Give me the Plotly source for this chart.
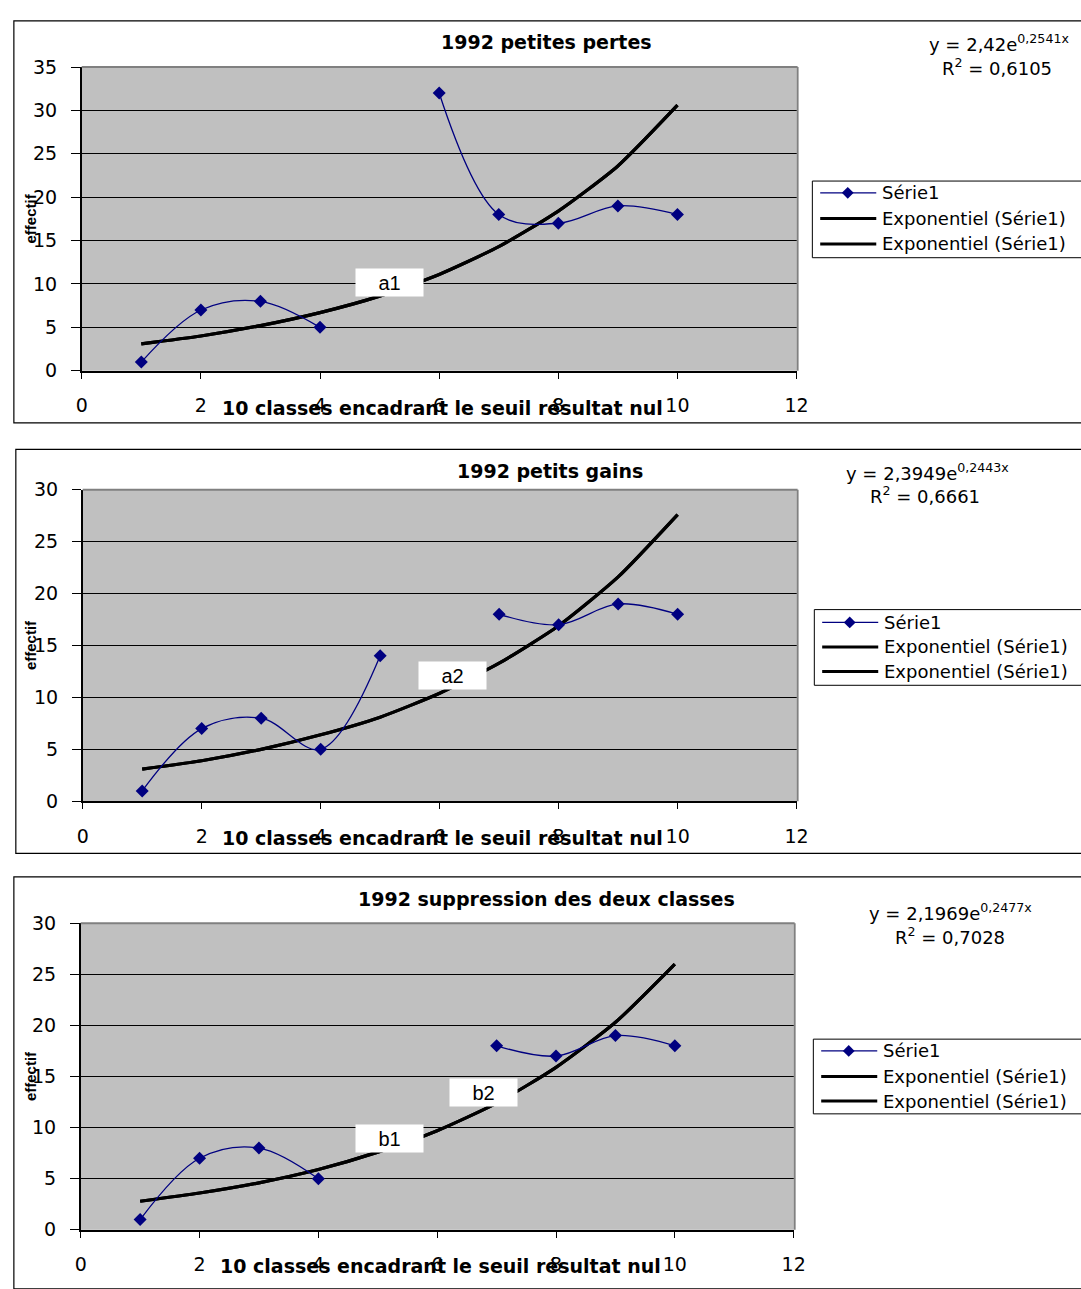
import plotly.graph_objects as go

W, H = 1081, 1289

# ---------------- data ----------------
x_classes = [1, 2, 3, 4, 5, 6, 7, 8, 9, 10]

serie_pertes = [1, 7, 8, 5, None, 32, 18, 17, 19, 18]
serie_gains = [1, 7, 8, 5, 14, None, 18, 17, 19, 18]
serie_suppr = [1, 7, 8, 5, None, None, 18, 17, 19, 18]

trend_pertes = [3.1, 4.0, 5.2, 6.7, 8.6, 11.1, 14.3, 18.4, 23.6, 30.6]
trend_gains = [3.1, 3.9, 5.0, 6.4, 8.1, 10.4, 13.3, 16.9, 21.6, 27.6]
trend_suppr = [2.8, 3.6, 4.6, 5.9, 7.6, 9.7, 12.4, 15.9, 20.3, 26.0]

titles = ["1992 petites pertes", "1992 petits gains", "1992 suppression des deux classes"]
equations = [("2,42", "0,2541x", "0,6105"), ("2,3949", "0,2443x", "0,6661"), ("2,1969", "0,2477x", "0,7028")]
y_max = [35, 30, 30]
x_title = "10 classes encadrant le seuil résultat nul"
y_title = "effectif"
legend_names = ["Série1", "Exponentiel (Série1)", "Exponentiel (Série1)"]
x_ticks = [0, 2, 4, 6, 8, 10, 12]

# --------------- layout geometry (pixels) ---------------
def X(px):
    return px / W

def Y(py):
    return 1 - py / H

plots = [  # x0, x1, ytop, ybottom
    (77, 804, 57, 366),
    (78, 804, 487, 804),
    (76, 801, 928, 1240),
]
frames = [(8, 10, 419), (10, 446, 857), (8, 881, 1300)]
title_pos = [(550, 32), (553, 468), (550, 903)]
eq_pos = [(1010, 33, 1008, 57), (937, 469, 935, 492), (961, 917, 960, 941)]
legend_pos = [(820, 173, 251, [185, 211, 237]),
              (822, 609, 686, [622, 647, 672]),
              (821, 1046, 1122, [1058, 1084, 1109])]
xtitle_y = [404, 841, 1277]
labels = [[("a1", 390, 276)], [("a2", 454, 676)], [("b2", 486, 1100), ("b1", 390, 1147)]]

series = [serie_pertes, serie_gains, serie_suppr]
trends = [trend_pertes, trend_gains, trend_suppr]

NAVY = "#000080"
GRAY_BG = "#C0C0C0"
FONT = "DejaVu Sans"

fig = go.Figure()
shapes = []
annotations = []
layout_axes = {}

for i in range(3):
    n = "" if i == 0 else str(i + 1)
    xa, ya = "x" + n, "y" + n
    x0, x1, yt, yb = plots[i]

    fig.add_trace(go.Scatter(
        x=x_classes, y=trends[i], mode="lines", xaxis=xa, yaxis=ya,
        line=dict(color="black", width=3.2, shape="spline", smoothing=0.6),
        name=legend_names[1], showlegend=False, hoverinfo="skip"))
    fig.add_trace(go.Scatter(
        x=x_classes, y=trends[i], mode="lines", xaxis=xa, yaxis=ya,
        line=dict(color="black", width=3.2, shape="spline", smoothing=0.6),
        name=legend_names[2], showlegend=False, hoverinfo="skip"))
    fig.add_trace(go.Scatter(
        x=x_classes, y=series[i], mode="lines+markers", xaxis=xa, yaxis=ya,
        line=dict(color=NAVY, width=1.3, shape="spline", smoothing=1),
        marker=dict(symbol="diamond", size=10, color=NAVY),
        connectgaps=False, name=legend_names[0], showlegend=False))

    layout_axes["xaxis" + n] = dict(
        domain=[X(x0), X(x1)], range=[0, 12], anchor=ya,
        tickvals=x_ticks, ticks="outside", ticklen=6, tickcolor="black",
        showline=True, linecolor="black", linewidth=1.5,
        showgrid=False, zeroline=False, ticklabelstandoff=11,
        tickfont=dict(family=FONT, size=19, color="black"), fixedrange=True)
    layout_axes["yaxis" + n] = dict(
        domain=[Y(yb), Y(yt)], range=[0, y_max[i]], anchor=xa,
        dtick=5, ticks="outside", ticklen=9, tickcolor="black",
        showline=True, linecolor="black", linewidth=1.5,
        showgrid=True, gridcolor="black", gridwidth=1, zeroline=False,
        ticklabelstandoff=10,
        tickfont=dict(family=FONT, size=19, color="black"), fixedrange=True)

    # plot area top/right gray border
    shapes.append(dict(type="line", xref="paper", yref="paper",
                       x0=X(x0), x1=X(x1 + 1), y0=Y(yt), y1=Y(yt),
                       line=dict(color="#808080", width=2)))
    shapes.append(dict(type="line", xref="paper", yref="paper",
                       x0=X(x1 + 1), x1=X(x1 + 1), y0=Y(yt), y1=Y(yb),
                       line=dict(color="#808080", width=2)))

    # outer frame
    fx, fy0, fy1 = frames[i]
    shapes.append(dict(type="rect", xref="paper", yref="paper",
                       x0=X(fx), x1=X(1100), y0=Y(fy1), y1=Y(fy0),
                       line=dict(color="black", width=1.2), layer="below"))

    # title
    tx, ty = title_pos[i]
    annotations.append(dict(text="<b>" + titles[i] + "</b>", x=X(tx), y=Y(ty),
                            xref="paper", yref="paper", showarrow=False,
                            xanchor="center", yanchor="middle",
                            font=dict(family=FONT, size=19, color="black")))
    # equation
    a, b, r2 = equations[i]
    ex, ey, rx, ry = eq_pos[i]
    annotations.append(dict(text="y = " + a + "e<sup>" + b + "</sup>", x=X(ex), y=Y(ey),
                            xref="paper", yref="paper", showarrow=False,
                            xanchor="center", yanchor="middle",
                            font=dict(family=FONT, size=18, color="black")))
    annotations.append(dict(text="R<sup>2</sup> = " + r2, x=X(rx), y=Y(ry),
                            xref="paper", yref="paper", showarrow=False,
                            xanchor="center", yanchor="middle",
                            font=dict(family=FONT, size=18, color="black")))
    # axis titles
    annotations.append(dict(text="<b>" + x_title + "</b>", x=X((x0 + x1) / 2 + 3), y=Y(xtitle_y[i]),
                            xref="paper", yref="paper", showarrow=False,
                            xanchor="center", yanchor="middle",
                            font=dict(family=FONT, size=19, color="black")))
    annotations.append(dict(text="<b>" + y_title + "</b>", x=X(25), y=Y((yt + yb) / 2),
                            xref="paper", yref="paper", showarrow=False, textangle=-90,
                            xanchor="center", yanchor="middle",
                            font=dict(family="Liberation Sans", size=15, color="black")))
    # labels in white boxes
    for (lab, lx, ly) in labels[i]:
        annotations.append(dict(text=lab, x=X(lx), y=Y(ly), xref="paper", yref="paper",
                                showarrow=False, xanchor="center", yanchor="middle",
                                width=65, height=25, bgcolor="white",
                                font=dict(family="Liberation Sans Narrow, Liberation Sans", size=20, color="black")))

    # legend (drawn manually)
    lx, ly0, ly1, rows = legend_pos[i]
    shapes.append(dict(type="rect", xref="paper", yref="paper",
                       x0=X(lx), x1=X(1100), y0=Y(ly1), y1=Y(ly0),
                       line=dict(color="black", width=1), fillcolor="white", layer="below"))
    for k, ry_ in enumerate(rows):
        if k == 0:
            shapes.append(dict(type="line", xref="paper", yref="paper",
                               x0=X(lx + 8), x1=X(lx + 65), y0=Y(ry_), y1=Y(ry_),
                               line=dict(color=NAVY, width=1.3)))
            cx = lx + 36
            shapes.append(dict(type="path", xref="paper", yref="paper",
                               path="M {},{} L {},{} L {},{} L {},{} Z".format(
                                   X(cx - 6), Y(ry_), X(cx), Y(ry_ - 6),
                                   X(cx + 6), Y(ry_), X(cx), Y(ry_ + 6)),
                               fillcolor=NAVY, line=dict(color=NAVY, width=0)))
        else:
            shapes.append(dict(type="line", xref="paper", yref="paper",
                               x0=X(lx + 8), x1=X(lx + 65), y0=Y(ry_), y1=Y(ry_),
                               line=dict(color="black", width=3)))
        annotations.append(dict(text=legend_names[k], x=X(lx + 69), y=Y(ry_),
                                xref="paper", yref="paper", showarrow=False,
                                xanchor="left", yanchor="middle",
                                font=dict(family=FONT, size=18, color="black")))

fig.update_layout(
    width=W, height=H,
    margin=dict(l=0, r=0, t=0, b=0),
    paper_bgcolor="white", plot_bgcolor=GRAY_BG,
    showlegend=False,
    shapes=shapes, annotations=annotations,
    **layout_axes,
)

fig.write_html("out.html", config={"displayModeBar": False},
               post_script="document.body.style.margin='0';document.body.style.overflow='hidden';")
